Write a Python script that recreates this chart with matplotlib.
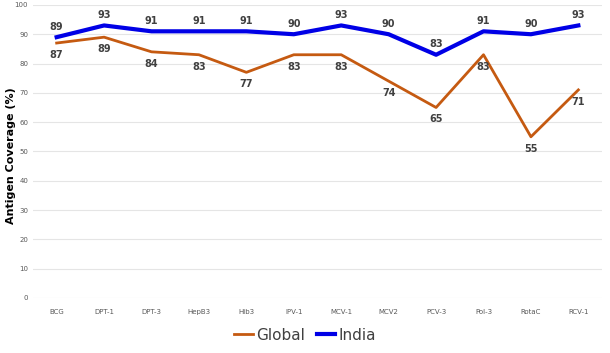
import matplotlib
matplotlib.use("Agg")
import matplotlib.pyplot as plt

antigens = ['BCG', 'DPT-1', 'DPT-3', 'HepB3', 'Hib3', 'IPV-1', 'MCV-1',
            'MCV2', 'PCV-3', 'Pol-3', 'RotaC', 'RCV-1']
global_cov = [87, 89, 84, 83, 77, 83, 83, 74, 65, 83, 55, 71]
india_cov = [89, 93, 91, 91, 91, 90, 93, 90, 83, 91, 90, 93]
yticks = [0, 10, 20, 30, 40, 50, 60, 70, 80, 90, 100]

fig = plt.figure(figsize=(6.1, 3.53), dpi=100)
ax = fig.add_axes([0.054, 0.156, 0.933, 0.83])

x = list(range(len(antigens)))
ax.plot(x, global_cov, color='#C55A11', lw=2.0, label='Global', solid_joinstyle='round')
ax.plot(x, india_cov, color='#0000E6', lw=3.0, label='India', solid_joinstyle='round')

for i in x:
    ax.annotate(str(global_cov[i]), (i, global_cov[i]), xytext=(0, -5),
                textcoords='offset points', ha='center', va='top',
                fontsize=7, fontweight='bold', color='#404040')
    ax.annotate(str(india_cov[i]), (i, india_cov[i]), xytext=(0, 4),
                textcoords='offset points', ha='center', va='bottom',
                fontsize=7, fontweight='bold', color='#404040')

ax.set_xlim(-0.5, len(antigens) - 0.5)
ax.set_ylim(0, 100)
ax.set_yticks(yticks)
ax.set_xticks(x)
ax.set_xticklabels(antigens)
ax.tick_params(axis='both', length=0, labelsize=5, colors='#595959')
ax.tick_params(axis='x', pad=8)
ax.grid(axis='y', color='#E5E5E5', lw=0.8)
ax.set_axisbelow(True)
for s in ax.spines.values():
    s.set_visible(False)

fig.text(0.018, 0.56, 'Antigen Coverage (%)', rotation=90, ha='center', va='center',
         fontsize=8, fontweight='bold', color='black')

fig.legend(loc='lower center', ncol=2, frameon=False, fontsize=11,
           bbox_to_anchor=(0.5, -0.01), handlelength=1.2, handletextpad=0.2,
           columnspacing=0.8, labelcolor='#404040')

fig.savefig('out.png', dpi=100)
